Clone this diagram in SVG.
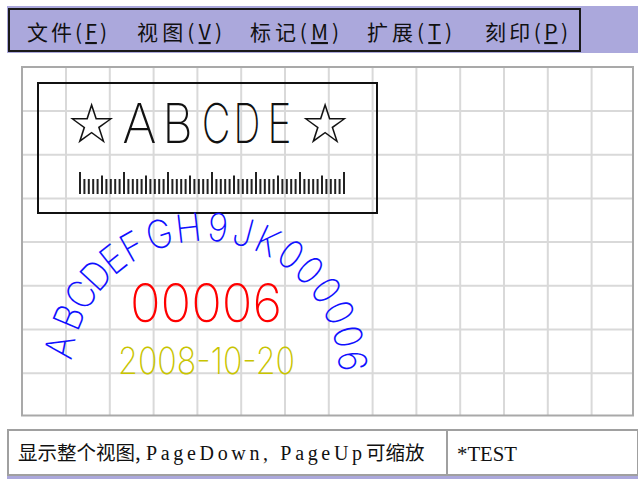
<svg xmlns="http://www.w3.org/2000/svg" width="638" height="479" viewBox="0 0 638 479">
<style>
.menu{font-family:"Noto Sans CJK SC","Noto Sans CJK JP",sans-serif;font-size:21px;fill:#111}
.ul{text-decoration:underline}
.grid{stroke:#d9d9d9;stroke-width:2;fill:none}
.gborder{stroke:#a9a9a9;stroke-width:2;fill:none}
.big{font-family:Inter,"DejaVu Sans",sans-serif;font-weight:200;font-size:55px;fill:#111}
.star{font-family:"DejaVu Sans",sans-serif;font-size:56px;fill:#111}
.arc{font-family:Inter,"DejaVu Sans",sans-serif;font-weight:230;font-size:39px;fill:#1010ff}
.num{font-family:Inter,"DejaVu Sans",sans-serif;font-weight:220}
.status{font-family:"Liberation Serif",serif;font-size:20px;fill:#111}
.cjk{font-family:"Noto Sans CJK SC",sans-serif;font-size:19.5px;fill:#111}
</style>
<rect width="638" height="479" fill="#ffffff"/>
<g id="menubar">
<rect x="7" y="6" width="631" height="47" fill="#aba8dc"/>
<rect x="9" y="9" width="571" height="42" fill="none" stroke="#1a1a1a" stroke-width="2"/>
<text class="menu" x="27" y="40" textLength="80" lengthAdjust="spacing">文件(<tspan class="ul">F</tspan>)</text>
<text class="menu" x="137" y="40" textLength="85" lengthAdjust="spacing">视图(<tspan class="ul">V</tspan>)</text>
<text class="menu" x="250" y="40" textLength="89" lengthAdjust="spacing">标记(<tspan class="ul">M</tspan>)</text>
<text class="menu" x="367" y="40" textLength="85" lengthAdjust="spacing">扩展(<tspan class="ul">T</tspan>)</text>
<text class="menu" x="485" y="40" textLength="83" lengthAdjust="spacing">刻印(<tspan class="ul">P</tspan>)</text>
</g>
<g id="canvas-grid">
<path class="grid" d="M66 67V415M109.8 67V415M153.6 67V415M197.4 67V415M241.2 67V415M285 67V415M328.8 67V415M372.6 67V415M416.4 67V415M460.2 67V415M504 67V415M547.8 67V415M591.6 67V415M22 111H633M22 154.7H633M22 198.4H633M22 242.1H633M22 285.8H633M22 329.5H633M22 373.2H633"/>
<rect class="gborder" x="22" y="67" width="611" height="348.5"/>
</g>
<g id="stamp-box">
<rect x="38" y="83" width="339" height="130" fill="none" stroke="#111" stroke-width="2"/>
<text class="star" x="91.5" y="143" text-anchor="middle">☆</text>
<text class="big" text-anchor="middle" transform="translate(139.5 143) scale(0.95 1)">A</text>
<text class="big" text-anchor="middle" transform="translate(177.5 143) scale(0.85 1)">B</text>
<text class="big" text-anchor="middle" transform="translate(216 143) scale(0.72 1)">C</text>
<text class="big" text-anchor="middle" transform="translate(247 143) scale(0.68 1)">D</text>
<text class="big" text-anchor="middle" transform="translate(279.5 143) scale(0.75 1)">E</text>
<text class="star" x="325" y="143" text-anchor="middle">☆</text>
<path fill="none" stroke="#222" stroke-width="2" d="M84.4 179v15M88.8 179v15M93.2 179v15M97.6 179v15M106.4 179v15M110.8 179v15M115.2 179v15M119.6 179v15M128.4 179v15M132.8 179v15M137.2 179v15M141.6 179v15M150.4 179v15M154.8 179v15M159.2 179v15M163.6 179v15M172.4 179v15M176.8 179v15M181.2 179v15M185.6 179v15M194.4 179v15M198.8 179v15M203.2 179v15M207.6 179v15M216.4 179v15M220.8 179v15M225.2 179v15M229.6 179v15M238.4 179v15M242.8 179v15M247.2 179v15M251.6 179v15M260.4 179v15M264.8 179v15M269.2 179v15M273.6 179v15M282.4 179v15M286.8 179v15M291.2 179v15M295.6 179v15M304.4 179v15M308.8 179v15M313.2 179v15M317.6 179v15M326.4 179v15M330.8 179v15M335.2 179v15M339.6 179v15M102 175.5v18.5M146 175.5v18.5M190 175.5v18.5M234 175.5v18.5M278 175.5v18.5M322 175.5v18.5M80 172v22M124 172v22M168 172v22M212 172v22M256 172v22M300 172v22M344 172v22"/>
</g>
<g id="arc-text" class="arc" text-anchor="middle">
<text transform="rotate(-79 205 375) translate(205 241) scale(0.9 1)">A</text>
<text transform="rotate(-67 205 375) translate(205 241) scale(0.9 1)">B</text>
<text transform="rotate(-57 205 375) translate(205 241) scale(0.9 1)">C</text>
<text transform="rotate(-47.5 205 375) translate(205 241) scale(0.9 1)">D</text>
<text transform="rotate(-38.5 205 375) translate(205 241) scale(0.9 1)">E</text>
<text transform="rotate(-29.5 205 375) translate(205 241) scale(0.9 1)">F</text>
<text transform="rotate(-18 205 375) translate(205 241) scale(0.9 1)">G</text>
<text transform="rotate(-6.5 205 375) translate(205 241) scale(0.9 1)">H</text>
<text transform="rotate(5 205 375) translate(205 241) scale(0.9 1)">9</text>
<text transform="rotate(15 205 375) translate(205 241) scale(0.9 1)">J</text>
<text transform="rotate(25 205 375) translate(205 241) scale(0.9 1)">K</text>
<text transform="rotate(35.5 205 375) translate(205 241) scale(0.9 1)">0</text>
<text transform="rotate(45 205 375) translate(205 241) scale(0.9 1)">0</text>
<text transform="rotate(55 205 375) translate(205 241) scale(0.9 1)">0</text>
<text transform="rotate(65 205 375) translate(205 241) scale(0.9 1)">0</text>
<text transform="rotate(75 205 375) translate(205 241) scale(0.9 1)">0</text>
<text transform="rotate(84.5 205 375) translate(205 241) scale(0.9 1)">6</text>
</g>
<g id="serial">
<text class="num" x="130" y="322" font-size="53" fill="#ff0000" textLength="152" lengthAdjust="spacingAndGlyphs">00006</text>
</g>
<g id="date">
<text class="num" x="118" y="374" font-size="37" fill="#c8c400" textLength="177" lengthAdjust="spacingAndGlyphs">2008-10-20</text>
</g>
<g id="statusbar">
<rect x="8" y="430" width="630" height="45" fill="#ffffff" stroke="#a0a0a0" stroke-width="2"/>
<line x1="447" y1="430" x2="447" y2="475" stroke="#a0a0a0" stroke-width="2"/>
<rect x="7" y="476" width="631" height="3" fill="#aba8dc"/>
<text class="cjk" x="18" y="460">显示整个视图,</text>
<text class="status" x="146" y="460" textLength="216" lengthAdjust="spacing">PageDown, PageUp</text>
<text class="cjk" x="366" y="460">可缩放</text>
<text class="status" x="457" y="461" textLength="60" lengthAdjust="spacingAndGlyphs">*TEST</text>
</g>
</svg>
